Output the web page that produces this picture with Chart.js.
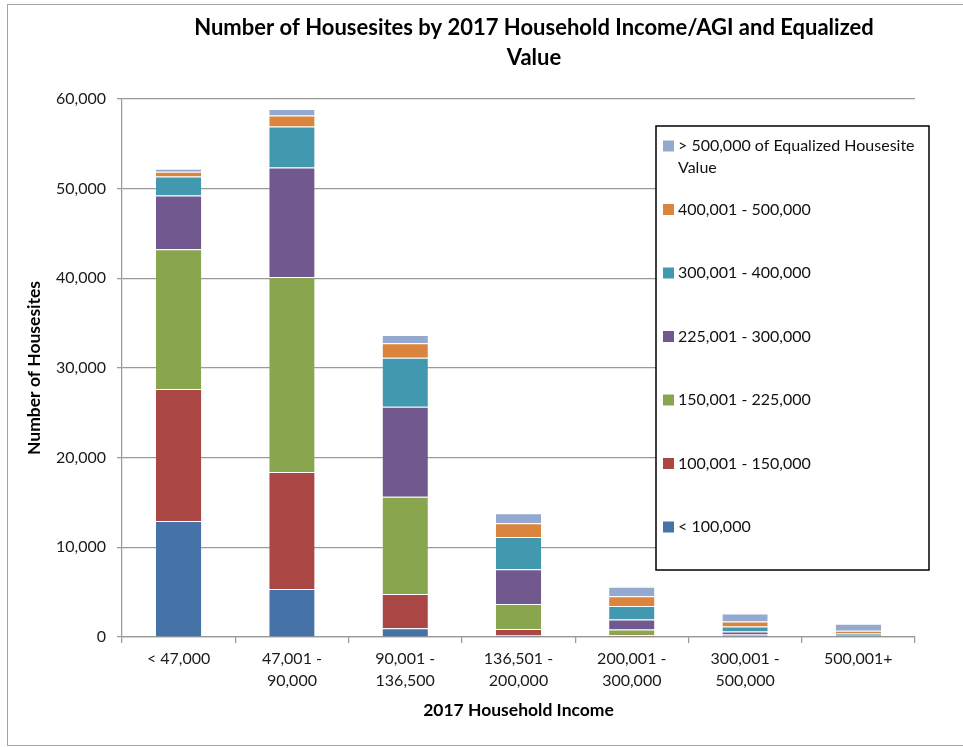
<!DOCTYPE html>
<html>
<head>
<meta charset="utf-8">
<script src="https://cdn.jsdelivr.net/npm/chart.js@4/dist/chart.umd.min.js"></script>
<style>
  html, body { margin: 0; padding: 0; background: #fff; }
  canvas { display: block; }
</style>
</head>
<body>
<canvas id="grafico" width="963" height="747"></canvas>
<script>
// Categorias de renda (eixo x)
const categorias = [
    "< 47,000",
    ["47,001 -", "90,000"],
    ["90,001 -", "136,500"],
    ["136,501 -", "200,000"],
    ["200,001 -", "300,000"],
    ["300,001 -", "500,000"],
    "500,001+",
];

// Séries: número de housesites por faixa de valor
const ate100k = [12950, 5350, 970, 190, 50, 20, 20];
const de100a150k = [14700, 13050, 3830, 700, 150, 50, 30];
const de150a225k = [15600, 21750, 10850, 2790, 650, 200, 50];
const de225a300k = [6000, 12200, 10030, 3870, 1100, 350, 150];
const de300a400k = [2100, 4570, 5470, 3600, 1500, 550, 200];
const de400a500k = [550, 1230, 1600, 1530, 1100, 550, 250];
const acima500k = [330, 740, 930, 1110, 1050, 900, 780];

const nomesSeries = [
    "< 100,000",
    "100,001 - 150,000",
    "150,001 - 225,000",
    "225,001 - 300,000",
    "300,001 - 400,000",
    "400,001 - 500,000",
    "> 500,000 of Equalized Housesite Value",
];
const valoresSeries = [ate100k, de100a150k, de150a225k, de225a300k, de300a400k, de400a500k, acima500k];
const cores = ["#4572A7", "#AA4643", "#89A54E", "#71588F", "#4198AF", "#DB843D", "#93A9CF"];

const titulo = ["Number of Housesites by 2017 Household Income/AGI and Equalized", "Value"];
const fonte = "Lato, 'Noto Sans', sans-serif";

// fundo branco e moldura cinza
const moldura = {
    id: "moldura",
    beforeDraw(chart) {
        const c = chart.ctx;
        c.save();
        c.fillStyle = "#fff";
        c.fillRect(0, 0, chart.width, chart.height);
        c.strokeStyle = "#a6a6a6";
        c.lineWidth = 1;
        c.strokeRect(7.5, 4.5, chart.width, 741);
        c.restore();
    },
};

// título em duas linhas, centralizado
const tituloPlugin = {
    id: "tituloPlugin",
    afterDraw(chart) {
        const c = chart.ctx;
        c.save();
        c.font = "bold 22px " + fonte;
        c.fillStyle = "#000";
        c.textAlign = "center";
        c.textBaseline = "middle";
        titulo.forEach((linha, i) => c.fillText(linha, 534, 28 + i * 30));
        c.restore();
    },
};

// legenda em caixa sobre a área do gráfico (ordem invertida)
const legendaCaixa = {
    id: "legendaCaixa",
    afterDraw(chart) {
        const c = chart.ctx;
        const x0 = 656, y0 = 126, w = 273, h = 444;
        c.save();
        c.fillStyle = "#fff";
        c.fillRect(x0, y0, w, h);
        c.strokeStyle = "#000";
        c.lineWidth = 1.5;
        c.strokeRect(x0, y0, w, h);
        c.font = "16px " + fonte;
        c.textBaseline = "middle";
        const maxW = w - 28;
        const sets = chart.data.datasets.slice().reverse();
        sets.forEach((ds, i) => {
            const y = 146 + i * 63.5;
            c.fillStyle = ds.backgroundColor;
            c.fillRect(x0 + 7, y - 5.5, 11, 11);
            // quebra de linha simples
            const palavras = ds.label.split(" ");
            const linhas = [];
            let atual = "";
            palavras.forEach((p) => {
                const teste = atual ? atual + " " + p : p;
                if (c.measureText(teste).width > maxW && atual) {
                    linhas.push(atual);
                    atual = p;
                } else {
                    atual = teste;
                }
            });
            linhas.push(atual);
            c.fillStyle = "#111";
            linhas.forEach((l, j) => c.fillText(l, x0 + 22, y + j * 22));
        });
        c.restore();
    },
};

new Chart(document.getElementById("grafico"), {
    type: "bar",
    data: {
        labels: categorias,
        datasets: valoresSeries.map((v, i) => ({
            label: nomesSeries[i],
            data: v,
            backgroundColor: cores[i],
            borderColor: "rgba(255,255,255,0.5)",
            borderWidth: { top: 1 },
            borderSkipped: "bottom",
            barPercentage: 0.4,
            categoryPercentage: 1,
        })),
    },
    options: {
        responsive: false,
        animation: false,
        layout: { padding: { left: 17, top: 99, right: 48, bottom: 20 } },
        plugins: {
            legend: { display: false },
            title: { display: false },
            tooltip: { enabled: false },
        },
        scales: {
            x: {
                stacked: true,
                afterFit: (s) => { s.height = 90; },
                grid: { drawOnChartArea: false, offset: true, tickLength: 6, color: "#9a9a9a", lineWidth: 1.25 },
                border: { color: "#9a9a9a", width: 1.25 },
                ticks: { color: "#1a1a1a", font: { family: fonte, size: 16, lineHeight: 1.38 }, maxRotation: 0, autoSkip: false, padding: 5 },
                title: { display: true, text: "2017 Household Income", color: "#000", font: { family: fonte, size: 17.5, weight: "bold", lineHeight: 1.2 }, padding: { top: 4, bottom: 6 } },
            },
            y: {
                stacked: true,
                min: 0,
                max: 60000,
                afterFit: (s) => { s.width = 105; },
                grid: { color: "#9a9a9a", lineWidth: 1.25, tickLength: 5 },
                border: { color: "#9a9a9a", width: 1.25 },
                ticks: {
                    stepSize: 10000,
                    color: "#1a1a1a",
                    font: { family: fonte, size: 16 },
                    padding: 11,
                    callback: (v) => v.toLocaleString("en-US"),
                },
                title: { display: true, text: "Number of Housesites", color: "#000", font: { family: fonte, size: 17.5, weight: "bold", lineHeight: 1.2 }, padding: { top: 7, bottom: 4 } },
            },
        },
    },
    plugins: [moldura, tituloPlugin, legendaCaixa],
});
</script>
</body>
</html>
